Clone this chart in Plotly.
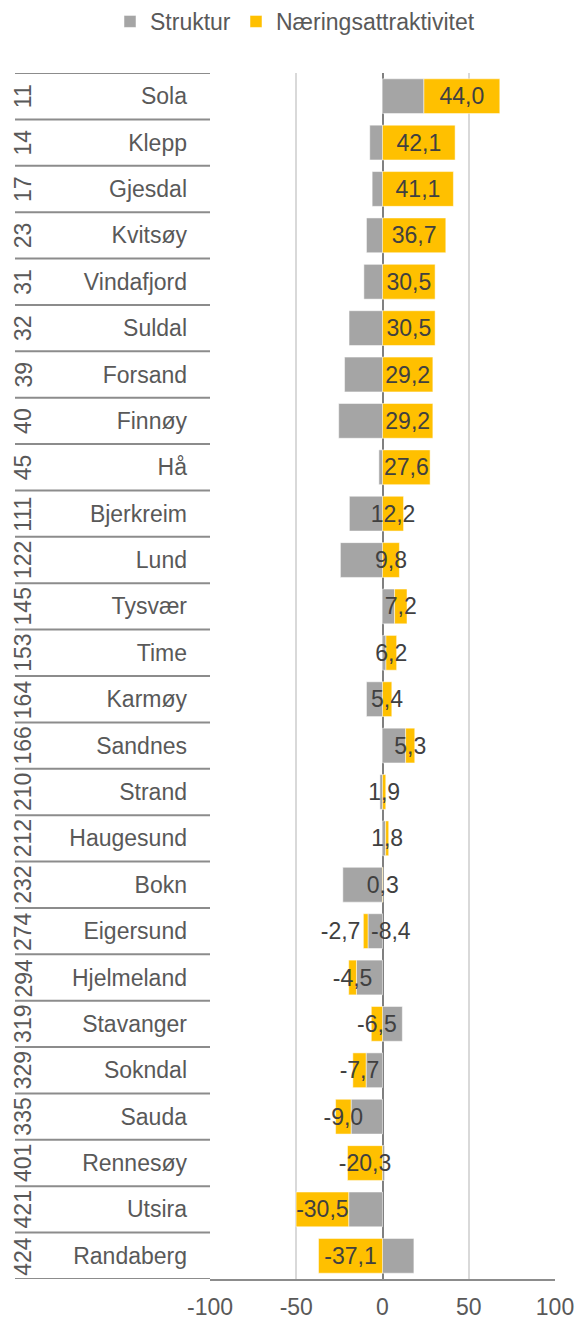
import plotly.graph_objects as go

names = ["Sola", "Klepp", "Gjesdal", "Kvitsøy", "Vindafjord", "Suldal", "Forsand", "Finnøy", "Hå",
         "Bjerkreim", "Lund", "Tysvær", "Time", "Karmøy", "Sandnes", "Strand", "Haugesund", "Bokn",
         "Eigersund", "Hjelmeland", "Stavanger", "Sokndal", "Sauda", "Rennesøy", "Utsira", "Randaberg"]
ranks = [11, 14, 17, 23, 31, 32, 39, 40, 45, 111, 122, 145, 153, 164, 166, 210, 212, 232,
         274, 294, 319, 329, 335, 401, 421, 424]
struktur = [24.0, -7.4, -6.0, -9.3, -10.8, -19.4, -22.0, -25.4, -2.1, -19.2, -24.4, 7.0, 2.0, -9.3,
            13.4, -1.5, 1.8, -23.0, -8.4, -15.1, 11.5, -9.5, -18.2, 1.2, -19.6, 18.2]
naering = [44.0, 42.1, 41.1, 36.7, 30.5, 30.5, 29.2, 29.2, 27.6, 12.2, 9.8, 7.2, 6.2, 5.4, 5.3,
           1.9, 1.8, 0.3, -2.7, -4.5, -6.5, -7.7, -9.0, -20.3, -30.5, -37.1]
x_ticks = [-100, -50, 0, 50, 100]

FONT = "Liberation Sans, Arial, sans-serif"
GRAY = "#A5A5A5"
GOLD = "#FFC000"


def fmt(v):
    return f"{v:.1f}".replace(".", ",")


# Struktur label only shown for Eigersund (as in the reference)
s_text = [fmt(v) if n == "Eigersund" else "" for n, v in zip(names, struktur)]
n_text = [fmt(v) for v in naering]
n_pos = ["outside" if n == "Eigersund" else "inside" for n in names]

fig = go.Figure()
fig.add_trace(go.Bar(
    y=names, x=struktur, orientation="h", name="Struktur", legend="legend",
    marker=dict(color=GRAY, line=dict(color="white", width=0.5)),
    text=s_text, texttemplate="%{text}", textposition="inside", insidetextanchor="end", textangle=0,
    textfont=dict(family=FONT, size=23, color="#404040"),
))
fig.add_trace(go.Bar(
    y=names, x=naering, orientation="h", name="Næringsattraktivitet", legend="legend2",
    marker=dict(color=GOLD, line=dict(color="white", width=0.5)),
    text=n_text, texttemplate="%{text}", textposition=n_pos, insidetextanchor="middle", textangle=0,
    textfont=dict(family=FONT, size=23, color="#404040"),
    cliponaxis=False,
))

# table row separators on the left
L = (15 - 210) / 345
for i in range(len(names) + 1):
    fig.add_shape(type="line", xref="paper", yref="y", x0=L, x1=0, y0=i - 0.5, y1=i - 0.5,
                  line=dict(color="#8C8C8C", width=2), layer="above")

# rank numbers (rotated)
for r, n in zip(ranks, names):
    fig.add_annotation(x=(23 - 210) / 345, xref="paper", y=n, yref="y", text=str(r),
                       textangle=-90, showarrow=False, xanchor="center", yanchor="middle",
                       font=dict(family=FONT, size=23, color="#595959"))

legend_common = dict(orientation="h", xref="container", yref="container", y=1.0,
                     xanchor="left", yanchor="top", font=dict(family=FONT, size=23, color="#595959"),
                     itemwidth=30, bgcolor="rgba(0,0,0,0)")

fig.update_layout(
    width=583, height=1320,
    margin=dict(l=210, r=28, t=73, b=41, autoexpand=False),
    barmode="relative", bargap=0.25,
    separators=",.",
    plot_bgcolor="white", paper_bgcolor="white",
    font=dict(family=FONT, size=23, color="#595959"),
    uniformtext=dict(minsize=23, mode="show"),
    showlegend=True,
    legend=dict(x=110 / 583, **legend_common),
    legend2=dict(x=236 / 583, **legend_common),
    xaxis=dict(range=[-100, 100], tickvals=x_ticks, ticktext=[str(t) for t in x_ticks],
               showgrid=True, gridcolor="#D9D9D9", gridwidth=2,
               zeroline=True, zerolinecolor="#808080", zerolinewidth=2,
               showline=True, linecolor="#8C8C8C", linewidth=2,
               ticklabelstandoff=6, tickfont=dict(family=FONT, size=23, color="#595959")),
    yaxis=dict(type="category", range=[len(names) - 0.5, -0.5], showgrid=False,
               ticklabelstandoff=22, tickfont=dict(family=FONT, size=23, color="#595959")),
)

fig.write_html("out.html", config={"displayModeBar": False},
               post_script="document.body.style.margin='0';document.body.style.overflow='hidden';")
